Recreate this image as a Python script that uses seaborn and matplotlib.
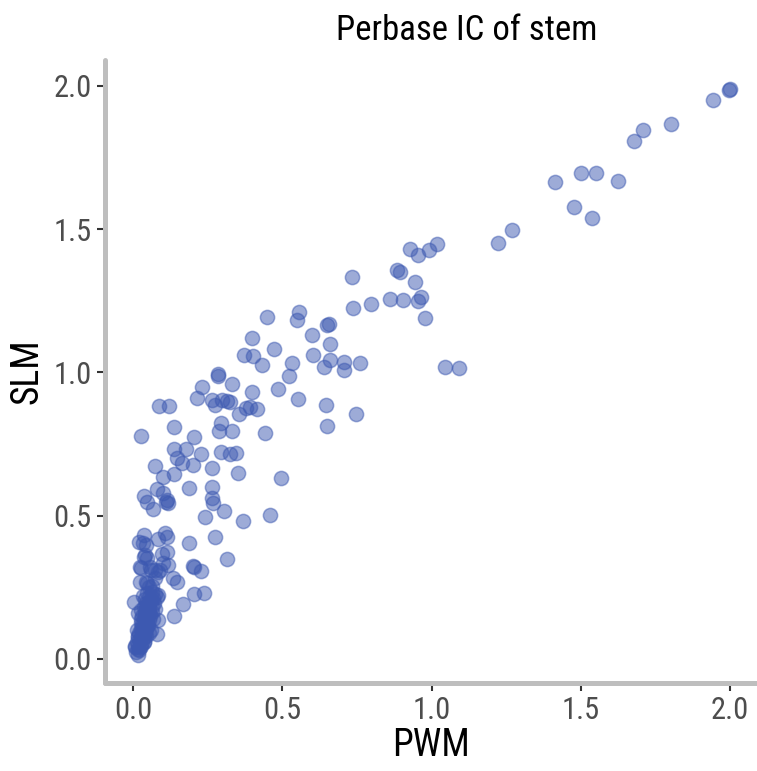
import matplotlib
matplotlib.use("Agg")
import matplotlib.pyplot as plt
import seaborn as sns
import pandas as pd

# ---- data ----
pwm_upper = [2.000, 1.997, 1.941, 1.802, 1.707, 1.679, 1.415, 1.502, 1.551, 1.626,
             1.476, 1.538, 1.270, 1.222, 0.926, 0.954, 0.992, 1.017, 0.885, 0.894,
             0.945, 0.861, 0.903, 0.953, 0.965, 0.734, 0.738, 0.797, 0.978, 0.448,
             0.557, 0.548, 0.651, 0.655, 0.600, 0.660, 0.398, 0.473, 0.403, 0.372,
             0.433, 0.532, 0.522, 0.604, 0.660, 0.639, 0.708, 0.706, 0.760, 1.044,
             1.093, 0.400, 0.485, 0.553, 0.414, 0.392, 0.646, 0.649, 0.747, 0.443,
             0.496, 0.460]
slm_upper = [1.990, 1.985, 1.949, 1.866, 1.845, 1.807, 1.665, 1.695, 1.694, 1.667,
             1.578, 1.537, 1.496, 1.452, 1.431, 1.409, 1.426, 1.447, 1.357, 1.350,
             1.314, 1.256, 1.253, 1.249, 1.264, 1.332, 1.226, 1.238, 1.189, 1.194,
             1.211, 1.182, 1.166, 1.168, 1.129, 1.100, 1.119, 1.080, 1.057, 1.059,
             1.027, 1.031, 0.988, 1.060, 1.043, 1.020, 1.037, 1.008, 1.034, 1.020,
             1.016, 0.932, 0.942, 0.907, 0.872, 0.878, 0.886, 0.814, 0.853, 0.788,
             0.630, 0.502]

pwm_mid = [0.285, 0.286, 0.232, 0.331, 0.213, 0.266, 0.275, 0.297, 0.314, 0.325,
           0.379, 0.354, 0.086, 0.121, 0.137, 0.027, 0.205, 0.295, 0.289, 0.330,
           0.137, 0.177, 0.148, 0.164, 0.202, 0.227, 0.294, 0.325, 0.345, 0.074,
           0.099, 0.138, 0.264, 0.353, 0.189, 0.265, 0.081, 0.101, 0.038, 0.113,
           0.266, 0.048, 0.068, 0.117, 0.110, 0.267, 0.303, 0.241, 0.367]
slm_mid = [0.996, 0.987, 0.950, 0.958, 0.912, 0.903, 0.886, 0.903, 0.901, 0.897,
           0.877, 0.853, 0.882, 0.882, 0.809, 0.778, 0.775, 0.824, 0.795, 0.796,
           0.734, 0.734, 0.700, 0.683, 0.677, 0.715, 0.721, 0.714, 0.717, 0.673,
           0.636, 0.644, 0.666, 0.648, 0.598, 0.601, 0.594, 0.578, 0.570, 0.556,
           0.560, 0.549, 0.522, 0.545, 0.548, 0.543, 0.517, 0.496, 0.481]

pwm_low = [0.021, 0.038, 0.042, 0.085, 0.107, 0.113, 0.189, 0.275, 0.316, 0.035,
           0.046, 0.096, 0.113, 0.023, 0.057, 0.074, 0.101, 0.090, 0.200, 0.204,
           0.227, 0.135, 0.146, 0.023, 0.046, 0.074, 0.204, 0.238, 0.166, 0.137,
           0.004, 0.079, 0.079, 0.085, 0.034, 0.039, 0.028, 0.061, 0.084, 0.117,
           0.084, 0.017]
slm_low = [0.409, 0.432, 0.398, 0.417, 0.438, 0.427, 0.406, 0.424, 0.348, 0.357,
           0.351, 0.366, 0.374, 0.322, 0.320, 0.310, 0.334, 0.312, 0.324, 0.322,
           0.308, 0.281, 0.270, 0.270, 0.264, 0.281, 0.227, 0.231, 0.192, 0.150,
           0.200, 0.217, 0.087, 0.136, 0.404, 0.363, 0.316, 0.310, 0.305, 0.328,
           0.223, 0.160]

pwm_cluster = [0.010, 0.015, 0.020, 0.008, 0.018, 0.025, 0.012, 0.022, 0.030, 0.015,
               0.028, 0.035, 0.020, 0.032, 0.040, 0.025, 0.038, 0.045, 0.030, 0.042,
               0.050, 0.035, 0.048, 0.055, 0.030, 0.045, 0.058, 0.040, 0.052, 0.065,
               0.035, 0.050, 0.062, 0.072, 0.045, 0.058, 0.070, 0.040, 0.055, 0.068,
               0.048, 0.062, 0.075, 0.052, 0.065, 0.045, 0.017, 0.005, 0.012, 0.028,
               0.060, 0.036, 0.044, 0.026, 0.054, 0.066, 0.033, 0.047, 0.022, 0.030,
               0.040, 0.050, 0.016, 0.027, 0.038, 0.052, 0.060, 0.043]
slm_cluster = [0.025, 0.035, 0.030, 0.045, 0.050, 0.045, 0.060, 0.065, 0.060, 0.075,
               0.080, 0.075, 0.090, 0.095, 0.090, 0.105, 0.110, 0.105, 0.120, 0.125,
               0.120, 0.135, 0.140, 0.135, 0.150, 0.155, 0.150, 0.165, 0.170, 0.165,
               0.180, 0.185, 0.180, 0.175, 0.195, 0.200, 0.195, 0.210, 0.215, 0.212,
               0.230, 0.235, 0.228, 0.250, 0.255, 0.270, 0.014, 0.040, 0.100, 0.140,
               0.100, 0.060, 0.080, 0.170, 0.160, 0.140, 0.220, 0.115, 0.040, 0.100,
               0.145, 0.190, 0.080, 0.125, 0.060, 0.090, 0.210, 0.175]

x_ticks = [0.0, 0.5, 1.0, 1.5, 2.0]
y_ticks = [0.0, 0.5, 1.0, 1.5, 2.0]
tick_labels = ["0.0", "0.5", "1.0", "1.5", "2.0"]

df = pd.DataFrame({
    "PWM": pwm_upper + pwm_mid + pwm_low + pwm_cluster,
    "SLM": slm_upper + slm_mid + slm_low + slm_cluster,
})

# ---- style ----
sns.set_theme(style="white")
plt.rcParams["font.family"] = ["Roboto Condensed", "DejaVu Sans"]

W, H, DPI = 757, 771, 100
fig = plt.figure(figsize=(W / DPI, H / DPI), dpi=DPI)
ax = fig.add_axes([105 / W, (H - 683) / H, (W - 105) / W, (683 - 60) / H])

point_color = "#3D59B1"
sns.scatterplot(data=df, x="PWM", y="SLM", ax=ax, s=105, color=point_color,
                alpha=0.5, edgecolor=point_color, linewidth=1.1)

ax.set_xlim(-0.094, 2.09)
ax.set_ylim(-0.084, 2.09)
ax.set_xticks(x_ticks)
ax.set_xticklabels(tick_labels)
ax.set_yticks(y_ticks)
ax.set_yticklabels(tick_labels)

for side in ["top", "right"]:
    ax.spines[side].set_visible(False)
for side in ["left", "bottom"]:
    ax.spines[side].set_color("#BEBEBE")
    ax.spines[side].set_linewidth(3.6)
    ax.spines[side].set_capstyle("round")

ax.tick_params(axis="both", which="major", direction="out", length=5.5, width=1.5,
               color="#333333", labelcolor="#4D4D4D", labelsize=22, pad=4,
               bottom=True, left=True)

ax.set_xlabel("PWM", fontsize=27, color="black", labelpad=1)
ax.set_ylabel("SLM", fontsize=27, color="black", labelpad=6)
fig.text(467 / W, 1 - 31 / H, "Perbase IC of stem", fontsize=25, color="black",
         ha="center", va="center")

ax.grid(False)
fig.savefig("out.png", dpi=DPI)
